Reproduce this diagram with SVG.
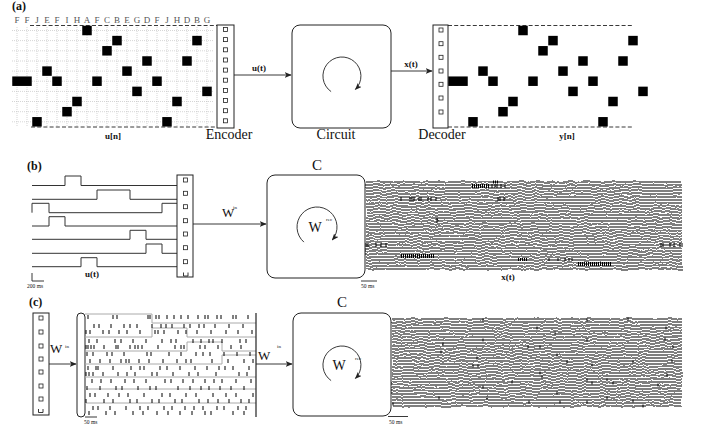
<svg xmlns="http://www.w3.org/2000/svg" width="710" height="430" viewBox="0 0 710 430">
<style>
.lbl{font-family:"Liberation Serif",serif;fill:#111}
.bold{font-family:"Liberation Serif",serif;font-weight:bold;fill:#111}
.let{font-family:"Liberation Serif",serif;fill:#555}
.box{fill:#fff;stroke:#222;stroke-width:1}
.sq{fill:#fff;stroke:#222;stroke-width:0.8}
.blk{fill:#000}
.grid{stroke:#bbb;stroke-width:0.6;stroke-dasharray:1 1;fill:none}
.dash{stroke:#222;stroke-width:0.9;stroke-dasharray:4 2.2;fill:none}
.ln{stroke:#222;stroke-width:0.9;fill:none}
.sig{stroke:#333;stroke-width:1;fill:none}
.tick{stroke:#000;stroke-width:1;fill:none}
.tr{stroke:#000;stroke-width:1.1;fill:none}
.gl{stroke:#aaa;stroke-width:1;fill:none}
.dense{stroke:#000;stroke-width:4;stroke-dasharray:1 1;fill:none}
</style>
<defs>
<marker id="ah" viewBox="0 0 10 8" refX="9" refY="4" markerWidth="7" markerHeight="5.6" orient="auto" markerUnits="userSpaceOnUse"><path d="M0,0 L10,4 L0,8 L2.5,4 z" fill="#222"/></marker>
<filter id="jit" x="-1%" y="-10%" width="102%" height="120%">
<feTurbulence type="fractalNoise" baseFrequency="0.12 0.05" numOctaves="3" seed="7"/>
<feDisplacementMap in="SourceGraphic" scale="4" xChannelSelector="R" yChannelSelector="G"/>
</filter>
<g id="pat">
<rect class="blk" x="82.25" y="25.75" width="9.5" height="9.5"/>
<rect class="blk" x="112.25" y="35.85" width="9.5" height="9.5"/>
<rect class="blk" x="192.25" y="35.85" width="9.5" height="9.5"/>
<rect class="blk" x="102.25" y="46.05" width="9.5" height="9.5"/>
<rect class="blk" x="142.25" y="56.25" width="9.5" height="9.5"/>
<rect class="blk" x="182.25" y="56.25" width="9.5" height="9.5"/>
<rect class="blk" x="42.25" y="66.35" width="9.5" height="9.5"/>
<rect class="blk" x="122.25" y="66.35" width="9.5" height="9.5"/>
<rect class="blk" x="12.25" y="76.45" width="19.5" height="9.5"/>
<rect class="blk" x="52.25" y="76.45" width="9.5" height="9.5"/>
<rect class="blk" x="92.25" y="76.45" width="9.5" height="9.5"/>
<rect class="blk" x="152.25" y="76.45" width="9.5" height="9.5"/>
<rect class="blk" x="132.25" y="86.65" width="9.5" height="9.5"/>
<rect class="blk" x="202.25" y="86.65" width="9.5" height="9.5"/>
<rect class="blk" x="72.25" y="96.75" width="9.5" height="9.5"/>
<rect class="blk" x="172.25" y="96.75" width="9.5" height="9.5"/>
<rect class="blk" x="62.25" y="106.95" width="9.5" height="9.5"/>
<rect class="blk" x="32.25" y="117.05" width="9.5" height="9.5"/>
<rect class="blk" x="162.25" y="117.05" width="9.5" height="9.5"/>
</g>
</defs>
<rect width="710" height="430" fill="#fff"/>

<!-- Panel (a) -->
<text class="bold" x="12" y="10" font-size="12">(a)</text>
<g id="input-sequence">
<text class="let" font-size="9" text-anchor="middle" x="17 27 37 47 57 67 77 87 97 107 117 127 137 147 157 167 177 187 197 207" y="23">FFJEFIHAFCBEGDFJHDBG</text>
<path class="grid" d="M12,30.5H214M12,40.6H214M12,50.8H214M12,61H214M12,71.1H214M12,81.2H214M12,91.4H214M12,101.5H214M12,111.7H214M12,121.8H214M17,27V127M27,27V127M37,27V127M47,27V127M57,27V127M67,27V127M77,27V127M87,27V127M97,27V127M107,27V127M117,27V127M127,27V127M137,27V127M147,27V127M157,27V127M167,27V127M177,27V127M187,27V127M197,27V127M207,27V127"/>
<path class="dash" d="M30,25.5H217M31,127H217"/>
<use href="#pat"/>
<text class="bold" x="113" y="139" font-size="9" text-anchor="middle">u[n]</text>
</g>
<g id="encoder">
<rect class="box" x="217" y="25" width="17" height="103"/>
<rect class="sq" x="223.5" y="27.5" width="4" height="4"/><rect class="sq" x="223.5" y="37.6" width="4" height="4"/><rect class="sq" x="223.5" y="47.8" width="4" height="4"/><rect class="sq" x="223.5" y="58" width="4" height="4"/><rect class="sq" x="223.5" y="68.1" width="4" height="4"/><rect class="sq" x="223.5" y="78.2" width="4" height="4"/><rect class="sq" x="223.5" y="88.4" width="4" height="4"/><rect class="sq" x="223.5" y="98.5" width="4" height="4"/><rect class="sq" x="223.5" y="108.7" width="4" height="4"/><rect class="sq" x="223.5" y="118.8" width="4" height="4"/>
<text class="lbl" x="229" y="139" font-size="14" text-anchor="middle">Encoder</text>
</g>
<g id="circuit">
<rect class="box" x="292" y="25" width="99" height="103" rx="8"/>
<path class="ln" d="M331.1,91.6 A19,19 0 1 1 355.4,89.4" marker-end="url(#ah)"/>
<text class="lbl" x="336" y="139" font-size="14" text-anchor="middle">Circuit</text>
</g>
<g id="decoder">
<rect class="box" x="433" y="25" width="15" height="103"/>
<rect class="sq" x="439" y="28" width="4" height="4"/><rect class="sq" x="439" y="41.7" width="4" height="4"/><rect class="sq" x="439" y="55.3" width="4" height="4"/><rect class="sq" x="439" y="69" width="4" height="4"/><rect class="sq" x="439" y="82.3" width="4" height="4"/><rect class="sq" x="439" y="96" width="4" height="4"/><rect class="sq" x="439" y="110" width="4" height="4"/>
<text class="lbl" x="442" y="139" font-size="14" text-anchor="middle">Decoder</text>
</g>
<g id="output-sequence">
<path class="dash" d="M448,25.5H632M448,127H632"/>
<use href="#pat" transform="translate(436,0)"/>
<text class="bold" x="567" y="139" font-size="9" text-anchor="middle">y[n]</text>
</g>

<!-- Panel (b) -->
<text class="bold" x="27" y="170" font-size="12">(b)</text>
<g id="input-signals">
<path class="sig" d="M32,185.5H65V176H81V185.5H177M32,199.3H97V190H130V199.3H177M32,212.7V203.3H49V212.7H162V203.3H177M32,226H49V216.7H65V226H177M32,239.3H130V230.3H146V239.3H177M32,253.3H146V244H162V253.3H177M32,266.7H81V257.7H97V266.7H177"/>
<path class="ln" d="M32,273V281H44"/>
<text class="lbl" x="27" y="288" font-size="5.5">200 ms</text>
<text class="bold" x="92" y="277" font-size="9" text-anchor="middle">u(t)</text>
</g>
<g id="input-layer-b">
<rect class="box" x="177" y="175" width="16" height="102"/>
<rect class="sq" x="183.5" y="178" width="4" height="4"/><rect class="sq" x="183.5" y="191.3" width="4" height="4"/><rect class="sq" x="183.5" y="204.7" width="4" height="4"/><rect class="sq" x="183.5" y="218.7" width="4" height="4"/><rect class="sq" x="183.5" y="232" width="4" height="4"/><rect class="sq" x="183.5" y="245.7" width="4" height="4"/><rect class="sq" x="183.5" y="259.7" width="4" height="4"/>
<path class="ln" d="M183.5,272.5V276H188V272.5"/>
</g>
<g id="reservoir-b">
<text class="lbl" x="317" y="170" font-size="15" text-anchor="middle">C</text>
<rect class="box" x="267" y="175" width="98" height="103" rx="8"/>
<path class="ln" d="M303.9,242.1 A20,20 0 1 1 332.3,239.9" marker-end="url(#ah)"/>
<text class="lbl" x="315" y="232" font-size="14" text-anchor="middle">W</text>
<text class="lbl" x="326" y="221" font-size="5">rec</text>
</g>
<g id="states-b">
<g filter="url(#jit)">
<path class="tr" d="M366,182H682M366,185H682M366,188H682M366,191H682M366,194H682M366,197H682M366,200H682M366,203H682M366,206H682M366,209H682M366,212H682M366,215H682M366,218H437V221H682M366,221H437V218H682M366,224H682M366,227H682M366,230H682M366,233H682M366,236H682M366,239H682M366,242H682M366,245H682M366,248H682M366,251H682M366,254H682M366,257H682M366,260H682M366,263H682M366,266H682M366,269H682"/>
</g>
<path class="dense" d="M472,186H490M401,256H435M578,264H612"/>
<path class="dense" style="stroke-width:3" d="M518,259.5H528M493,182H498"/>
<path class="tick" d="M492,184v4M495,184v4M497,184v4M501,184v4M505,184v4M401,197v4M410,197v4M412,197v4M414,197v4M419,197v4M421,197v4M428,197v4M431,197v4M436,197v4M498,197v4M500,197v4M504,197v4M366,243v4M368,243v4M376,243v4M381,243v4M386,243v4M661,243v4M663,243v4M670,243v4M674,243v4M680,243v4M682,243v4M549,258v3M558,258v3M565,258v3M569,258v3M572,258v3M437,217V223"/>
<path class="ln" d="M361,281H377"/>
<text class="lbl" x="361" y="288" font-size="5.5">50 ms</text>
<text class="bold" x="508" y="280" font-size="9" text-anchor="middle">x(t)</text>
</g>

<!-- Panel (c) -->
<text class="bold" x="29" y="306" font-size="12">(c)</text>
<g id="input-layer-c">
<rect class="box" x="33" y="313" width="16" height="102"/>
<rect class="sq" x="39" y="316" width="4" height="4"/><rect class="sq" x="39" y="330" width="4" height="4"/><rect class="sq" x="39" y="344" width="4" height="4"/><rect class="sq" x="39" y="357" width="4" height="4"/><rect class="sq" x="39" y="370" width="4" height="4"/><rect class="sq" x="39" y="384" width="4" height="4"/><rect class="sq" x="39" y="397" width="4" height="4"/>
<path class="ln" d="M38.5,409V412.5H43V409"/>
</g>
<g id="spike-raster">
<rect class="box" x="77" y="313" width="8" height="104" rx="4"/>
<path class="gl" d="M85,314H152V323H256M85,337H152V328H187V337H256M85,351H187V342H222V351H256M85,364H222V355H256M85,377H256M85,389H256M85,403H256"/>
<path class="tick" d="M88,315v4M113,315v4M117,315v4M148,315v4M150,315v4M156,315v4M159,315v4M167,315v4M174,315v4M181,315v4M188,315v4M198,315v4M205,315v4M208,315v4M217,315v4M221,315v4M233,315v4M236,315v4M248,315v4
M94,324v4M99,324v4M111,324v4M124,324v4M130,324v4M137,324v4M152,324v4M161,324v4M166,324v4M172,324v4M184,324v4M190,324v4M199,324v4M204,324v4M215,324v4M229,324v4M243,324v4
M86,330v4M90,330v4M103,330v4M109,330v4M119,330v4M127,330v4M140,330v4M155,330v4M158,330v4M164,330v4M178,330v4M186,330v4M197,330v4M211,330v4M226,330v4M238,330v4M252,330v4
M89,339v4M97,339v4M115,339v4M121,339v4M133,339v4M146,339v4M162,339v4M171,339v4M176,339v4M193,339v4M201,339v4M209,339v4M213,339v4M222,339v4M240,339v4M246,339v4
M86,345v4M88,345v4M91,345v4M94,345v4M104,345v4M116,345v4M118,345v4M130,345v4M135,345v4M138,345v4M142,345v4M158,345v4M175,345v4M181,345v4M184,345v4M200,345v4M205,345v4M218,345v4M231,345v4M241,345v4
M87,352v4M93,352v4M107,352v4M112,352v4M124,352v4M147,352v4M151,352v4M169,352v4M181,352v4M196,352v4M203,352v4M210,352v4M224,352v4M237,352v4M250,352v4
M90,359v4M100,359v4M110,359v4M121,359v4M126,359v4M129,359v4M139,359v4M149,359v4M163,359v4M177,359v4M186,359v4M191,359v4M212,359v4M228,359v4M244,359v4M253,359v4
M88,366v4M96,366v4M98,366v4M113,366v4M131,366v4M140,366v4M144,366v4M160,366v4M167,366v4M180,366v4M195,366v4M207,366v4M219,366v4M225,366v4M233,366v4M249,366v4
M86,372v4M89,372v4M93,372v4M103,372v4M118,372v4M127,372v4M135,372v4M152,372v4M157,372v4M173,372v4M189,372v4M198,372v4M216,372v4M239,372v4M247,372v4
M92,379v4M101,379v4M111,379v4M125,379v4M134,379v4M146,379v4M165,379v4M171,379v4M183,379v4M193,379v4M205,379v4M214,379v4M222,379v4M236,379v4M251,379v4
M87,386v4M100,386v4M116,386v4M122,386v4M138,386v4M150,386v4M156,386v4M178,386v4M190,386v4M201,386v4M209,386v4M220,386v4M231,386v4M244,386v4
M90,393v4M95,393v4M108,393v4M119,393v4M128,393v4M144,393v4M162,393v4M170,393v4M186,393v4M196,393v4M213,393v4M226,393v4M236,393v4M253,393v4
M86,399v4M104,399v4M113,399v4M130,399v4M137,399v4M152,399v4M159,399v4M175,399v4M182,399v4M199,399v4M208,399v4M218,399v4M229,399v4M241,399v4M249,399v4
M93,406v4M98,406v4M110,406v4M126,406v4M140,406v4M148,406v4M164,406v4M172,406v4M185,406v4M194,406v4M203,406v4M217,406v4M224,406v4M238,406v4M246,406v4
M89,411v4M106,411v4M115,411v4M133,411v4M143,411v4M157,411v4M168,411v4M180,411v4M192,411v4M205,411v4M211,411v4M233,411v4M244,411v4"/>
<path class="ln" style="stroke-width:1.2" d="M256,313V417"/>
<path class="ln" d="M85,417H97"/>
<text class="lbl" x="84" y="424" font-size="5.5">50 ms</text>
</g>
<g id="reservoir-c">
<text class="lbl" x="342" y="307" font-size="15" text-anchor="middle">C</text>
<rect class="box" x="293" y="313" width="98" height="103" rx="8"/>
<path class="ln" d="M331.1,380.6 A19,19 0 1 1 355.4,378.4" marker-end="url(#ah)"/>
<text class="lbl" x="339" y="370" font-size="14" text-anchor="middle">W</text>
<text class="lbl" x="355" y="360" font-size="5">rec</text>
</g>
<g id="states-c">
<g filter="url(#jit)">
<path class="tr" d="M392,319H682M392,322H682M392,325H682M392,328H682M392,331H682M392,334H682M392,337H682M392,340H682M392,343H682M392,346H682M392,349H682M392,352H682M392,355H682M392,358H682M392,361H682M392,364H682M392,367H682M392,370H682M392,373H682M392,376H682M392,379H682M392,382H682M392,385H682M392,388H682M392,391H682M392,394H682M392,397H682M392,400H682M392,403H682M392,406H682"/>
</g>
<path class="tick" d="M483,318.5v3M587,318.5v3M628,317.5v3M537,326.5v3M666,326.5v3M555,331.5v3M483,338.5v3M587,338.5v3M665,337.5v3M443,342.5v3M528,345.5v3M540,345.5v3M673,345.5v3M441,350.5v3M557,353.5v3M477,356.5v3M567,360.5v3M592,363.5v3M473,364.5v3M478,364.5v3M633,360.5v3M672,359.5v3M540,371.5v3M667,373.5v3M542,375.5v3M587,378.5v3M592,381.5v3M607,378.5v3M512,380.5v3M613,381.5v3M483,385.5v3M658,383.5v3M557,391.5v3M439,396.5v3M487,396.5v3M633,399.5v3M529,400.5v3M560,400.5v3M587,400.5v3M607,396.5v3M643,404.5v3M393,402.5v3"/>
<path class="ln" d="M388,416.5H408"/>
<text class="lbl" x="389" y="424" font-size="5.5">50 ms</text>
</g>

<!-- Connectors -->
<g id="connectors">
<path class="ln" d="M234,75H291" marker-end="url(#ah)"/>
<path class="ln" d="M391,71H432" marker-end="url(#ah)"/>
<path class="ln" d="M193,224H266" marker-end="url(#ah)"/>
<path class="ln" d="M49,364H76" marker-end="url(#ah)"/>
<path class="ln" d="M256,364H292" marker-end="url(#ah)"/>
<text class="bold" x="259" y="71" font-size="9" text-anchor="middle">u(t)</text>
<text class="bold" x="411" y="67" font-size="9" text-anchor="middle">x(t)</text>
<text class="lbl" x="222" y="217" font-size="13">W</text>
<text class="lbl" x="233" y="209" font-size="5">in</text>
<text class="lbl" x="50" y="353" font-size="13">W</text>
<text class="lbl" x="65" y="348" font-size="5">in</text>
<text class="lbl" x="258" y="360" font-size="13">W</text>
<text class="lbl" x="277" y="348" font-size="5">in</text>
</g>
</svg>
